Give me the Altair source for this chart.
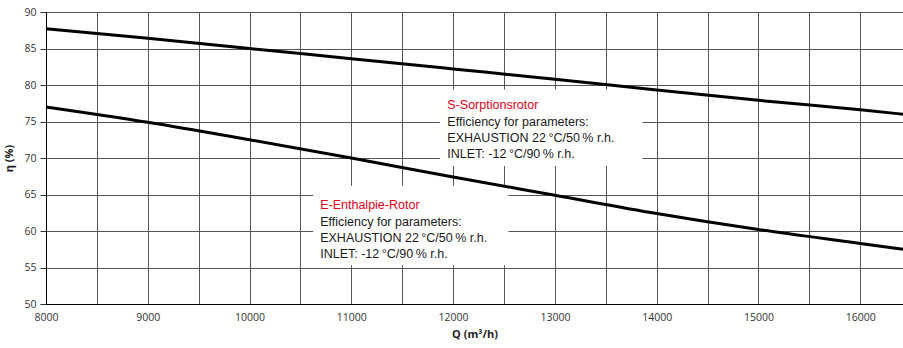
import altair as alt
import pandas as pd

# Air flow (m³/h) and efficiency (%) for the two rotor types
q_values = [8000, 9000, 10000, 11000, 12000, 13000, 14000, 15000, 16000, 16420]
eta_sorption = [87.7, 86.4, 85.0, 83.6, 82.2, 80.8, 79.3, 77.9, 76.6, 76.0]
eta_enthalpy = [77.0, 74.9, 72.5, 70.0, 67.4, 64.9, 62.4, 60.2, 58.3, 57.5]

x_grid = list(range(8000, 16001, 500))
y_ticks = list(range(50, 91, 5))

# Annotation blocks: first line is the rotor name (red), rest describe parameters
s_lines = ["S-Sorptionsrotor", "Efficiency for parameters:",
           "EXHAUSTION 22\u202f°C/50\u202f% r.h.", "INLET: -12\u202f°C/90\u202f% r.h."]
e_lines = ["E-Enthalpie-Rotor", "Efficiency for parameters:",
           "EXHAUSTION 22\u202f°C/50\u202f% r.h.", "INLET: -12\u202f°C/90\u202f% r.h."]
s_anchor = (11943, [77.26, 74.93, 72.74, 70.55])
e_anchor = (10694, [63.56, 61.23, 59.04, 56.85])
s_box = (11870, 13860, 79.4, 68.9)
e_box = (10625, 12543, 66.2, 55.3)

curves = pd.DataFrame(
    [{"Q": q, "eta": v, "rotor": "S"} for q, v in zip(q_values, eta_sorption)]
    + [{"Q": q, "eta": v, "rotor": "E"} for q, v in zip(q_values, eta_enthalpy)]
)

labels = []
for (x0, ys), lines in ((s_anchor, s_lines), (e_anchor, e_lines)):
    for i, (y, t) in enumerate(zip(ys, lines)):
        labels.append({"x": x0, "y": y, "text": t, "head": i == 0})
labels = pd.DataFrame(labels)

boxes = pd.DataFrame([
    {"x": b[0], "x2": b[1], "y": b[2], "y2": b[3]} for b in (s_box, e_box)
])

x_scale = alt.Scale(domain=[8000, 16420], nice=False, zero=False)
y_scale = alt.Scale(domain=[50, 90], nice=False, zero=False)

x_axis = alt.Axis(
    values=x_grid, format="d",
    labelExpr="datum.value % 1000 == 0 ? datum.label : ''",
    grid=True, gridColor="#555", gridWidth=1, gridOpacity=1,
    ticks=False, domainColor="#000", labelFont="Open Sans", labelFontSize=10.5,
    labelColor="#333", labelPadding=8, labelOverlap=False, labelFlush=False,
    title="Q (m³/h)", titleFont="Open Sans",
    titleFontSize=11, titleFontWeight="bold", titleColor="#222", titlePadding=6,
)
y_axis = alt.Axis(
    values=y_ticks, grid=True, gridColor="#555", gridWidth=1, gridOpacity=1,
    ticks=True, tickSize=6, tickColor="#333", domainColor="#000",
    labelFont="Open Sans", labelFontSize=10.5, labelColor="#333", labelPadding=4,
    labelOverlap=False, labelFlush=False,
    title="η (%)", titleFont="Open Sans", titleFontSize=11, titleFontWeight="bold",
    titleColor="#222", titlePadding=9,
)

rects = alt.Chart(boxes).mark_rect(color="white").encode(
    x=alt.X("x:Q", scale=x_scale, axis=x_axis), x2="x2:Q",
    y=alt.Y("y:Q", scale=y_scale, axis=y_axis), y2="y2:Q",
)

lines = alt.Chart(curves).mark_line(
    color="black", strokeWidth=3, interpolate="monotone"
).encode(
    x=alt.X("Q:Q", scale=x_scale, axis=x_axis),
    y=alt.Y("eta:Q", scale=y_scale, axis=y_axis),
    detail="rotor:N",
)

texts = alt.Chart(labels).mark_text(
    align="left", baseline="middle", font="Liberation Sans", fontSize=12.5
).encode(
    x=alt.X("x:Q", scale=x_scale, axis=x_axis),
    y=alt.Y("y:Q", scale=y_scale, axis=y_axis),
    text="text:N",
    color=alt.condition("datum.head", alt.value("#e3001b"), alt.value("#1a1a1a")),
)

chart = alt.layer(rects, lines, texts).properties(
    width=857, height=292,
    autosize=alt.AutoSizeParams(type="none"),
    padding={"left": 46, "top": 12, "right": 0, "bottom": 44},
    background="white",
).configure_view(stroke=None)

chart.save("out.html", embed_options={"renderer": "svg", "actions": False})
